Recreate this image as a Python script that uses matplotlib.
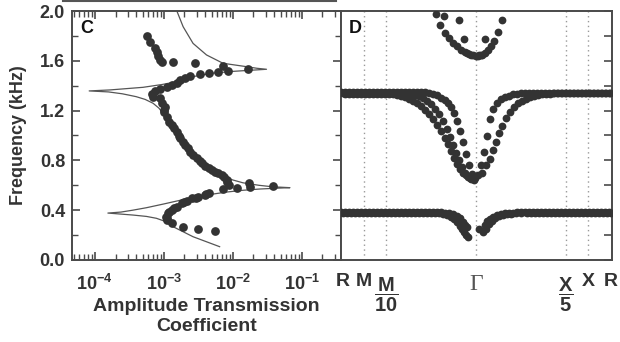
import matplotlib
matplotlib.use("Agg")
import matplotlib.pyplot as plt
from matplotlib.lines import Line2D
from matplotlib.transforms import blended_transform_factory
import matplotlib.ticker as mticker

plt.rcParams['font.family'] = ['Liberation Sans', 'DejaVu Sans']
plt.rcParams['font.weight'] = 'bold'
plt.rcParams['axes.labelweight'] = 'bold'
plt.rcParams['mathtext.fontset'] = 'custom'
plt.rcParams['mathtext.rm'] = 'Liberation Sans:bold'
plt.rcParams['mathtext.bf'] = 'Liberation Sans:bold'
plt.rcParams['mathtext.it'] = 'Liberation Sans:bold'

# ---------------- Panel C data ----------------
# measured amplitude transmission coefficient vs frequency (kHz)
c_meas_T = [5.68e-4, 6.34e-4, 7.48e-4, 7.94e-4, 8.18e-4, 8.85e-4, 9.33e-4, 1.38e-3, 2.84e-3,
            7.33e-3, 8.67e-3, 1.69e-2, 6.21e-3, 4.47e-3, 3.36e-3, 2.40e-3, 2.04e-3, 1.74e-3,
            1.55e-3, 1.31e-3, 1.10e-3, 8.85e-4, 7.48e-4, 6.70e-4, 7.08e-4, 8.85e-4, 9.33e-4,
            1.02e-3, 1.10e-3, 1.00e-3, 1.05e-3, 1.20e-3, 1.31e-3, 1.42e-3, 1.55e-3, 1.64e-3,
            1.72e-3, 1.88e-3, 2.04e-3, 2.22e-3, 2.40e-3, 2.70e-3, 3.02e-3, 3.30e-3, 3.55e-3,
            4.00e-3, 4.47e-3, 5.00e-3, 5.55e-3, 6.20e-3, 6.92e-3, 7.60e-3, 8.18e-3, 8.71e-3,
            8.18e-3, 1.70e-2, 1.78e-2, 1.15e-2, 7.33e-3, 3.84e-2, 4.47e-3, 3.98e-3, 3.16e-3,
            2.55e-3, 2.15e-3, 1.82e-3, 1.55e-3, 1.40e-3, 1.31e-3, 1.17e-3, 1.07e-3, 1.10e-3,
            1.31e-3, 1.93e-3, 3.11e-3, 5.55e-3, 1.20e-3, 1.10e-3, 1.95e-3, 2.90e-3, 4.1e-3]
c_meas_f = [1.80, 1.753, 1.70, 1.668, 1.638, 1.606, 1.593, 1.593, 1.585,
            1.561, 1.518, 1.532, 1.513, 1.505, 1.494, 1.48, 1.464, 1.446,
            1.424, 1.406, 1.387, 1.371, 1.36, 1.333, 1.307, 1.299, 1.259,
            1.205, 1.151, 1.19, 1.23, 1.11, 1.084, 1.06, 1.03, 1.00,
            0.977, 0.95, 0.924, 0.90, 0.87, 0.84, 0.817, 0.797, 0.777,
            0.757, 0.736, 0.722, 0.709, 0.696, 0.683, 0.665, 0.643, 0.602,
            0.629, 0.616, 0.589, 0.576, 0.568, 0.597, 0.541, 0.522, 0.508,
            0.495, 0.476, 0.455, 0.428, 0.415, 0.402, 0.375, 0.348, 0.321,
            0.295, 0.263, 0.246, 0.235, 0.388, 0.335, 0.465, 0.50, 0.53]

# calculated transmission curve
c_calc_T = [6.46e-3, 2.66e-3, 1.36e-3, 1.05e-3, 7.83e-4, 5.62e-4, 3.59e-4, 2.24e-4, 1.55e-4,
            2.40e-4, 3.55e-4, 5.62e-4, 1.0e-3, 2.09e-3, 3.98e-3, 7.94e-3, 1.41e-2, 2.45e-2,
            4.47e-2, 6.76e-2, 3.80e-2, 2.40e-2, 1.41e-2, 1.0e-2, 7.59e-3, 5.81e-3, 4.27e-3,
            3.33e-3, 2.63e-3, 2.14e-3, 1.74e-3, 1.45e-3, 1.17e-3, 9.77e-4, 8.51e-4, 7.0e-4,
            5.37e-4, 3.98e-4, 2.51e-4, 1.58e-4, 8.3e-5, 1.66e-4, 5.01e-4, 9.55e-4, 1.53e-3,
            2.66e-3, 5.01e-3, 1.0e-2, 1.58e-2, 2.40e-2, 3.09e-2, 2.24e-2, 1.58e-2, 7.24e-3,
            4.17e-3, 2.66e-3, 1.91e-3, 1.55e-3, 1.45e-3]
c_calc_f = [0.107, 0.187, 0.268, 0.31, 0.335, 0.35, 0.361, 0.370, 0.377,
            0.385, 0.40, 0.42, 0.45, 0.49, 0.52, 0.545, 0.56, 0.570,
            0.577, 0.581, 0.588, 0.600, 0.62, 0.643, 0.67, 0.696, 0.74,
            0.777, 0.83, 0.884, 0.95, 1.018, 1.10, 1.178, 1.22, 1.259,
            1.29, 1.312, 1.335, 1.350, 1.358, 1.366, 1.387, 1.41, 1.432,
            1.473, 1.50, 1.515, 1.522, 1.528, 1.532, 1.540, 1.553, 1.58,
            1.647, 1.74, 1.874, 2.0, 2.05]

c_xticks = [1e-4, 1e-3, 1e-2, 1e-1]
c_xticklabels = [r'$10^{-4}$', r'$10^{-3}$', r'$10^{-2}$', r'$10^{-1}$']
yticks = [0.0, 0.4, 0.8, 1.2, 1.6, 2.0]
yticklabels = ['0.0', '0.4', '0.8', '1.2', '1.6', '2.0']

# ---------------- Panel D data (band structure) ----------------
d_path_pos = [-135, -112, -90, 0, 90, 112, 135]
d_path_lbl = ['R', 'M', r'$\dfrac{M}{10}$', 'Γ', r'$\dfrac{X}{5}$', 'X', 'R']
d_dotted = [-112, -90, 0, 90, 112]

# lower band, left
lb_a_x = [-135, -131, -127, -123, -119, -115, -111, -107, -103, -99, -95, -91, -87, -83, -79, -75, -71,
          -67, -63, -59, -55, -51, -47, -43, -39, -35, -31, -27, -23, -19, -16, -13, -11, -9]
lb_a_f = [0.385, 0.385, 0.385, 0.385, 0.385, 0.385, 0.385, 0.385, 0.385, 0.385, 0.385, 0.385, 0.385,
          0.385, 0.385, 0.385, 0.385, 0.385, 0.385, 0.385, 0.385, 0.385, 0.385, 0.385, 0.385,
          0.384, 0.381, 0.376, 0.366, 0.352, 0.335, 0.308, 0.284, 0.262]
lb_b_x = [-133, -129, -125, -121, -117, -113, -109, -105, -101, -97, -93, -89, -85, -81, -77, -73,
          -69, -65, -61, -57, -53, -49, -45, -41, -37, -33, -29, -25, -22, -19, -16, -14, -12, -10, -8]
lb_b_f = [0.378, 0.378, 0.378, 0.378, 0.378, 0.378, 0.378, 0.378, 0.378, 0.378, 0.378, 0.378,
          0.378, 0.378, 0.378, 0.378, 0.378, 0.378, 0.378, 0.378, 0.378, 0.378, 0.378, 0.377,
          0.375, 0.369, 0.360, 0.347, 0.330, 0.305, 0.272, 0.245, 0.222, 0.203, 0.188]
# lower band, right
lb_c_x = [3, 7, 9, 11, 14, 17, 21, 25, 29, 33, 37, 41, 45, 49, 53, 57, 61, 65, 69, 73, 77, 81, 85,
          89, 93, 97, 101, 105, 109, 113, 117, 121, 125, 129, 133]
lb_c_f = [0.245, 0.225, 0.285, 0.31, 0.332, 0.348, 0.36, 0.368, 0.374, 0.378, 0.381, 0.383, 0.384,
          0.385, 0.385, 0.385, 0.385, 0.385, 0.385, 0.385, 0.385, 0.385, 0.385, 0.385, 0.385, 0.385,
          0.385, 0.385, 0.385, 0.385, 0.385, 0.385, 0.385, 0.385, 0.385]
lb_d_x = [10, 13, 16, 19, 23, 27, 31, 35, 40, 45, 51, 55, 59, 63, 67, 71, 75, 79, 83, 87, 91, 95,
          99, 103, 107, 111, 115, 119, 123, 127, 131, 135]
lb_d_f = [0.25, 0.29, 0.315, 0.335, 0.35, 0.36, 0.367, 0.372, 0.376, 0.378, 0.378, 0.378, 0.378,
          0.378, 0.378, 0.378, 0.378, 0.378, 0.378, 0.378, 0.378, 0.378, 0.378, 0.378, 0.378,
          0.378, 0.378, 0.378, 0.378, 0.378, 0.378, 0.378]

# middle band, left
mb_a_x = [-135, -131, -127, -123, -119, -115, -111, -107, -103, -99, -95, -91, -87, -83, -79, -75,
          -71, -67, -63, -59, -55, -51, -47, -43, -39, -35, -31, -28, -25, -22, -19, -16, -13, -10,
          -7, -4, -1]
mb_a_f = [1.348, 1.348, 1.348, 1.348, 1.348, 1.348, 1.348, 1.348, 1.348, 1.348, 1.348, 1.348,
          1.348, 1.348, 1.348, 1.348, 1.348, 1.348, 1.348, 1.348, 1.348, 1.348, 1.343, 1.335,
          1.322, 1.305, 1.282, 1.258, 1.225, 1.18, 1.12, 1.04, 0.95, 0.85, 0.76, 0.69, 0.655]
mb_b_x = [-133, -129, -125, -121, -117, -113, -109, -105, -101, -97, -93, -89, -85, -81, -77, -73,
          -69, -65, -61, -57, -53, -49, -45, -41, -37, -33, -29, -26, -23, -20, -17, -14, -11, -8,
          -5, -2]
mb_b_f = [1.340, 1.340, 1.340, 1.340, 1.340, 1.340, 1.340, 1.340, 1.340, 1.340, 1.340, 1.340,
          1.340, 1.340, 1.340, 1.340, 1.340, 1.336, 1.328, 1.316, 1.30, 1.278, 1.25, 1.215, 1.17,
          1.115, 1.05, 0.99, 0.925, 0.86, 0.80, 0.745, 0.70, 0.67, 0.65, 0.64]
mb_c_x = [-131, -127, -123, -119, -115, -111, -107, -103, -99, -95, -91, -87, -83, -79, -75, -71,
          -67, -63, -59, -55, -51, -47, -43, -39, -35, -31, -28, -25, -22, -19, -16, -13, -10, -6]
mb_c_f = [1.333, 1.333, 1.333, 1.333, 1.333, 1.333, 1.333, 1.333, 1.333, 1.333, 1.333, 1.333,
          1.333, 1.328, 1.32, 1.31, 1.297, 1.28, 1.26, 1.235, 1.205, 1.17, 1.13, 1.085, 1.035,
          0.98, 0.93, 0.875, 0.82, 0.77, 0.73, 0.70, 0.68, 0.66]
# middle band, right
mb_d_x = [2, 5, 8, 11, 14, 17, 21, 25, 29, 33, 37, 41, 45, 49, 53, 57, 61, 65, 69, 73, 77, 81, 85,
          89, 93, 97, 101, 105, 109, 113, 117, 121, 125, 129, 133]
mb_d_f = [0.68, 0.76, 0.87, 1.00, 1.13, 1.21, 1.26, 1.29, 1.308, 1.32, 1.33, 1.337, 1.345, 1.345,
          1.345, 1.345, 1.345, 1.345, 1.345, 1.345, 1.345, 1.345, 1.345, 1.345, 1.345, 1.345,
          1.345, 1.345, 1.345, 1.345, 1.345, 1.345, 1.345, 1.345, 1.345]
mb_e_x = [6, 10, 14, 17, 20, 23, 26, 30, 34, 38, 42, 46, 50, 54, 58, 62, 66, 70, 74, 78, 82, 86,
          90, 94, 98, 102, 106, 110, 114, 118, 122, 126, 130, 134]
mb_e_f = [0.70, 0.76, 0.81, 0.88, 0.95, 1.02, 1.08, 1.14, 1.19, 1.23, 1.26, 1.28, 1.297, 1.308,
          1.317, 1.324, 1.33, 1.334, 1.337, 1.339, 1.341, 1.341, 1.341, 1.341, 1.341, 1.341,
          1.341, 1.341, 1.341, 1.341, 1.341, 1.341, 1.341, 1.341]

# upper band
ub_x = [-40, -32, -36, -31, -27, -23, -19, -15, -11, -7, -3, 0, 3, 6, 9, 12, 15, 18, 22, 26,
        -17, -12, 9, -9, -5, 2, 5]
ub_f = [1.975, 1.96, 1.89, 1.82, 1.78, 1.745, 1.715, 1.69, 1.67, 1.655, 1.645, 1.64, 1.645, 1.65,
        1.665, 1.685, 1.72, 1.76, 1.83, 1.925, 1.925, 1.775, 1.775, 1.66, 1.648, 1.64, 1.65]

# ---------------- Figure ----------------
W, H = 620, 342
fig = plt.figure(figsize=(W / 100, H / 100), dpi=100)
axC = fig.add_axes([72 / W, 82 / H, 269 / W, 249 / H])
axD = fig.add_axes([341 / W, 82 / H, 271 / W, 249 / H])

txt = '#333333'
spine_c = '#4a4a4a'
dot_c = '#333333'

# Panel C
axC.plot(c_calc_T, c_calc_f, color='#555555', lw=0.9, zorder=2)
axC.plot(c_meas_T, c_meas_f, 'o', ms=6.3, color=dot_c, mec='none', zorder=3)
axC.set_xscale('log')
axC.set_xlim(10 ** -4.33, 10 ** -0.43)
axC.set_ylim(0, 2.0)
axC.xaxis.set_major_locator(mticker.FixedLocator(c_xticks))
axC.xaxis.set_major_formatter(mticker.FixedFormatter(c_xticklabels))
axC.xaxis.set_minor_locator(mticker.LogLocator(base=10, subs=range(2, 10), numticks=20))
axC.xaxis.set_minor_formatter(mticker.NullFormatter())
axC.set_yticks(yticks)
axC.set_yticklabels(yticklabels)
axC.yaxis.set_minor_locator(mticker.MultipleLocator(0.2))
axC.tick_params(which='both', direction='in', top=True, right=True, color=spine_c,
                labelcolor=txt)
axC.tick_params(axis='y', labelsize=13, pad=5)
axC.tick_params(axis='x', labelsize=13, pad=10)
axC.tick_params(which='major', length=6, width=1.2)
axC.tick_params(which='minor', length=4, width=1.0)
axC.set_ylabel('Frequency (kHz)', fontsize=13, color=txt, labelpad=9, fontweight='bold')
axC.set_xlabel('Amplitude Transmission\nCoefficient', fontsize=14, color=txt,
               labelpad=3, linespacing=1.25, fontweight='bold')
axC.text(0.03, 0.93, 'C', transform=axC.transAxes, fontsize=13, color='#111111',
         fontweight='bold', va='center', ha='left')

# Panel D
for xv in d_dotted:
    axD.axvline(xv, color='#999999', ls=(0, (1, 2.5)), lw=1.0, zorder=1)
for xs, fs in [(lb_a_x, lb_a_f), (lb_b_x, lb_b_f), (lb_c_x, lb_c_f), (lb_d_x, lb_d_f),
               (mb_a_x, mb_a_f), (mb_b_x, mb_b_f), (mb_c_x, mb_c_f), (mb_d_x, mb_d_f),
               (mb_e_x, mb_e_f), (ub_x, ub_f)]:
    axD.plot(xs, fs, 'o', ms=5.6, color=dot_c, mec='none', zorder=3, clip_on=True)
axD.set_xlim(-135, 136)
axD.set_ylim(0, 2.0)
axD.set_xticks([])
axD.yaxis.set_major_locator(mticker.MultipleLocator(0.2))
axD.tick_params(axis='y', which='both', direction='in', left=False, right=True,
                labelleft=False, length=6, width=1.2, color=spine_c)
axD.text(0.03, 0.93, 'D', transform=axD.transAxes, fontsize=13, color='#111111',
         fontweight='bold', va='center', ha='left')
trD = blended_transform_factory(axD.transData, axD.transAxes)
for pos, lbl in zip(d_path_pos, d_path_lbl):
    if lbl == 'Γ':
        axD.text(pos, -0.10, lbl, transform=trD, family='Liberation Serif',
                 fontweight='normal', fontsize=17, color='#555555', ha='center', va='center')
    elif lbl.startswith('$'):
        axD.text(pos, -0.14, lbl, transform=trD, fontsize=14.5, color=txt,
                 ha='center', va='center')
    else:
        xx = pos
        if pos == -135:
            xx = -133
        axD.text(xx, -0.088, lbl, transform=trD, fontsize=14, color=txt,
                 ha='center', va='center', fontweight='bold')

for ax in (axC, axD):
    for sp in ax.spines.values():
        sp.set_color(spine_c)
        sp.set_linewidth(1.4)

# top border remnant line
fig.add_artist(Line2D([63 / W, 336 / W], [1 - 1.0 / H, 1 - 1.0 / H], color='#555555', lw=1.5))

fig.savefig('out.png', dpi=100)
